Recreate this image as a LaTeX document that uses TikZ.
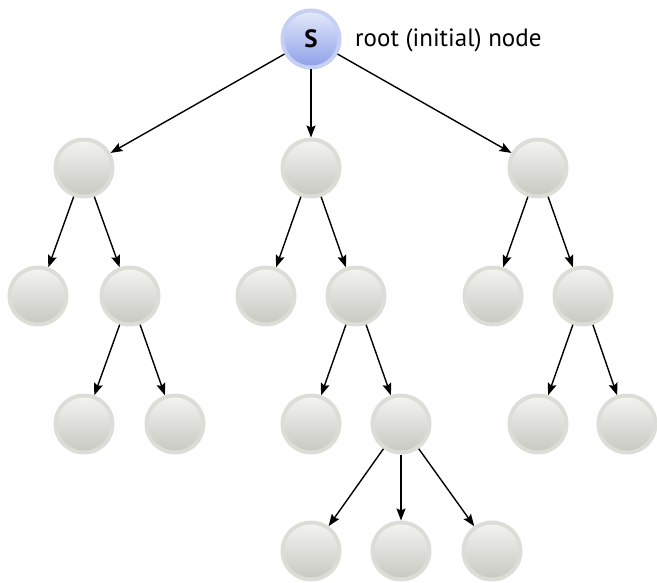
\documentclass[tikz,border=0pt]{standalone}
\usepackage{fontspec}
\setmainfont{PT Sans}
\usetikzlibrary{arrows.meta}
\definecolor{ringgrey}{HTML}{DCDDD6}
\definecolor{topgrey}{HTML}{F5F5F3}
\definecolor{botgrey}{HTML}{C6C7BF}
\definecolor{ringblue}{HTML}{C6D0F2}
\definecolor{topblue}{HTML}{E8ECFB}
\definecolor{botblue}{HTML}{8A9DE8}
\tikzset{
  state/.style={circle, minimum size=61pt, inner sep=0pt, outer sep=0pt,
    fill=ringgrey,
    path picture={\shade[top color=topgrey, bottom color=botgrey]
      (path picture bounding box.center) circle (26.5pt);}},
  rootstate/.style={circle, minimum size=61pt, inner sep=0pt, outer sep=0pt,
    fill=ringblue, font=\fontsize{25}{29}\selectfont\bfseries,
    path picture={\shade[top color=topblue, bottom color=botblue]
      (path picture bounding box.center) circle (26.5pt);}},
  edge/.style={-{Stealth[length=12pt,width=9pt,inset=2pt]}, line width=1.4pt, black},
  lbl/.style={anchor=west, inner sep=0pt, font=\fontsize{25}{29}\selectfont}
}
\begin{document}
\begin{tikzpicture}[x=1pt,y=-1pt]
\useasboundingbox (0,0) rectangle (657,583);
% root
\node[rootstate] (s) at (311,39) {S};
\node[lbl] (rl) at (355,40) {root (initial) node};
% level 1
\node[state] (a) at (84,168) {};
\node[state] (b) at (311,168) {};
\node[state] (c) at (538,168) {};
% level 2
\node[state] (a1) at (38,296) {};
\node[state] (a2) at (130,296) {};
\node[state] (b1) at (266,296) {};
\node[state] (b2) at (356,296) {};
\node[state] (c1) at (493,296) {};
\node[state] (c2) at (583,296) {};
% level 3
\node[state] (a21) at (84,424) {};
\node[state] (a22) at (175,424) {};
\node[state] (b21) at (311,424) {};
\node[state] (b22) at (401,424) {};
\node[state] (c21) at (538,424) {};
\node[state] (c22) at (627,424) {};
% level 4
\node[state] (b221) at (311,551) {};
\node[state] (b222) at (401,551) {};
\node[state] (b223) at (492,551) {};
% edges
\foreach \u/\v in {s/a, s/b, s/c, a/a1, a/a2, b/b1, b/b2, c/c1, c/c2,
  a2/a21, a2/a22, b2/b21, b2/b22, c2/c21, c2/c22,
  b22/b221, b22/b222, b22/b223}
  \draw[edge] (\u) -- (\v);
\end{tikzpicture}
\end{document}
